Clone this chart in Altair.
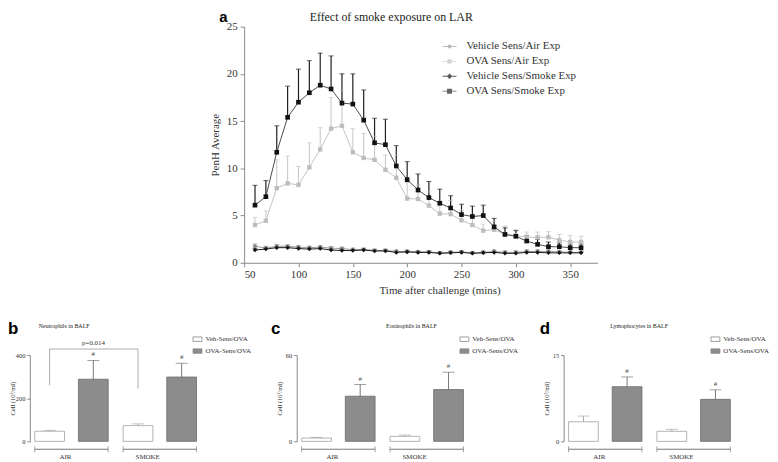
import altair as alt
import pandas as pd

SERIF = "Liberation Serif"
SANS = "Liberation Sans"

# ---------------- panel a data ----------------
times = [60, 70, 80, 90, 100, 110, 120, 130, 140, 150, 160, 170, 180, 190, 200, 210,
         220, 230, 240, 250, 260, 270, 280, 290, 300, 310, 320, 330, 340, 350, 360]
series = ["Vehicle Sens/Air Exp", "OVA Sens/Air Exp", "Vehicle Sens/Smoke Exp", "OVA Sens/Smoke Exp"]

veh_air_mean = [1.75, 1.55, 1.75, 1.75, 1.65, 1.6, 1.65, 1.55, 1.5, 1.4, 1.4, 1.3, 1.3, 1.2, 1.2, 1.15,
                1.15, 1.05, 1.1, 1.15, 1.05, 1.1, 1.2, 1.1, 1.1, 1.2, 1.2, 1.2, 1.15, 1.1, 1.1]
veh_air_upper = [2.0, 1.75, 1.95, 1.9, 1.8, 1.75, 1.8, 1.7, 1.65, 1.55, 1.55, 1.45, 1.45, 1.35, 1.35, 1.3,
                 1.3, 1.2, 1.25, 1.3, 1.2, 1.25, 1.35, 1.25, 1.25, 1.35, 1.35, 1.35, 1.3, 1.25, 1.25]
ova_air_mean = [4.0, 4.45, 7.9, 8.4, 8.25, 10.1, 12.0, 14.2, 14.5, 11.7, 11.1, 10.9, 9.85, 9.0, 6.8, 6.75,
                6.05, 5.2, 5.15, 4.5, 4.0, 3.4, 3.5, 3.05, 2.9, 2.7, 2.7, 2.7, 2.4, 2.2, 2.2]
ova_air_upper = [4.8, 5.5, 10.9, 11.3, 10.2, 12.7, 14.3, 17.5, 18.2, 14.2, 13.7, 13.4, 11.4, 11.4, 8.5, 8.2,
                 7.5, 6.5, 6.6, 5.6, 5.1, 4.1, 4.4, 3.9, 3.5, 3.25, 3.25, 3.3, 3.0, 2.9, 2.8]
veh_smoke_mean = [1.35, 1.45, 1.6, 1.6, 1.5, 1.45, 1.5, 1.35, 1.3, 1.3, 1.35, 1.25, 1.25, 1.1, 1.15, 1.1,
                  1.1, 1.0, 1.05, 1.1, 1.0, 1.05, 1.1, 1.0, 1.0, 1.1, 1.1, 1.05, 1.05, 1.05, 1.05]
veh_smoke_upper = [1.5, 1.55, 1.7, 1.7, 1.6, 1.55, 1.6, 1.45, 1.4, 1.4, 1.45, 1.35, 1.35, 1.2, 1.25, 1.2,
                   1.2, 1.1, 1.15, 1.2, 1.1, 1.15, 1.2, 1.1, 1.1, 1.2, 1.2, 1.15, 1.15, 1.15, 1.15]
ova_smoke_mean = [6.1, 7.0, 11.7, 15.4, 17.0, 18.0, 18.8, 18.4, 16.9, 16.8, 15.1, 12.7, 12.5, 10.25, 8.8, 7.7,
                  6.9, 6.3, 5.8, 5.1, 4.9, 5.0, 3.8, 3.0, 2.8, 2.3, 1.95, 1.7, 1.7, 1.6, 1.6]
ova_smoke_upper = [8.2, 8.7, 14.5, 18.7, 20.5, 21.4, 22.2, 21.9, 20.0, 20.0, 18.3, 15.3, 15.2, 12.4, 10.7, 9.4,
                   8.6, 7.8, 7.1, 6.2, 6.0, 6.1, 4.7, 3.7, 3.4, 2.9, 2.5, 2.2, 2.1, 2.0, 2.0]

x_ticks_a = [50, 100, 150, 200, 250, 300, 350]
y_ticks_a = [0, 5, 10, 15, 20, 25]

# ---------------- panels b-d data ----------------
groups = ["AIR", "SMOKE"]
bar_series = ["Veh-Sens/OVA", "OVA-Sens/OVA"]
sig_marks = ["", "#", "", "#"]          # order: AIR veh, AIR ova, SMOKE veh, SMOKE ova
neut_mean = [47, 288, 73, 298]
neut_upper = [51, 375, 81, 362]
eos_mean = [2.3, 31.4, 3.5, 36.0]
eos_upper = [2.8, 39.5, 4.4, 48.1]
lym_mean = [3.4, 9.5, 1.75, 7.3]
lym_upper = [4.4, 11.2, 2.1, 8.95]
neut_ticks = [0, 100, 200, 300, 400]
eos_ticks = [0, 20, 40, 60]
lym_ticks = [0, 5, 10, 15]
p_label = "p=0.014"
p_left, p_right, p_top, p_text = 260, 245, 428, 454

NONPOS = dict(color="independent", shape="independent", size="independent",
              strokeWidth="independent", stroke="independent", fill="independent")

# ---------------- panel a ----------------
WA, HA = 356, 238
df_a = pd.DataFrame({
    "time": times * 4,
    "series": [s for s in series for _ in times],
    "mean": veh_air_mean + ova_air_mean + veh_smoke_mean + ova_smoke_mean,
    "upper": veh_air_upper + ova_air_upper + veh_smoke_upper + ova_smoke_upper,
})

xa = alt.X("time:Q", scale=alt.Scale(domain=[50, 375], nice=False, zero=False),
           axis=alt.Axis(values=x_ticks_a, title="Time after challenge (mins)", grid=False,
                         tickSize=4, labelFont=SERIF, labelFontSize=11, titleFont=SERIF,
                         titleFontSize=11, titleFontWeight="normal", domainColor="#888",
                         tickColor="#888", labelColor="#333", titleColor="#333",
                         labelPadding=2, titlePadding=5, titleX=197))
ya = alt.Y("mean:Q", scale=alt.Scale(domain=[0, 25], nice=False),
           axis=alt.Axis(values=y_ticks_a, title="PenH Average", grid=False, tickSize=4,
                         labelFont=SERIF, labelFontSize=11, titleFont=SERIF, titleFontSize=11,
                         titleFontWeight="normal", domainColor="#888", tickColor="#888",
                         labelColor="#333", titleColor="#333", labelPadding=3, titlePadding=6))

def sc(rng):
    return alt.Scale(domain=series, range=rng)

err_cols = ["#a0a0a0", "#c8c8c8", "#333333", "#1e1e1e"]
line_cols = ["#9a9a9a", "#c4c4c4", "#1a1a1a", "#4d4d4d"]
pt_cols = ["#8c8c8c", "#bdbdbd", "#111111", "#111111"]

base_a = alt.Chart(df_a)
err_a = base_a.mark_rule().encode(
    x=xa, y=ya, y2="upper:Q",
    color=alt.Color("series:N", scale=sc(err_cols), legend=None),
    strokeWidth=alt.StrokeWidth("series:N", scale=sc([1, 1.2, 1, 1.6]), legend=None),
)
cap_a = base_a.mark_tick(orient="horizontal", size=5).encode(
    x=xa, y=alt.Y("upper:Q"),
    color=alt.Color("series:N", scale=sc(err_cols), legend=None),
    strokeWidth=alt.StrokeWidth("series:N", scale=sc([1, 1.2, 1, 1.6]), legend=None),
)
line_a = base_a.mark_line(strokeWidth=1).encode(
    x=xa, y=ya, detail="series:N",
    color=alt.Color("series:N", scale=sc(line_cols), legend=None),
)
pts_a = base_a.mark_point(filled=True, opacity=1).encode(
    x=xa, y=ya,
    color=alt.Color("series:N", scale=sc(pt_cols), legend=None),
    shape=alt.Shape("series:N", scale=sc(["circle", "square", "diamond", "square"]), legend=None),
    size=alt.Size("series:N", scale=sc([18, 22, 24, 44]), legend=None),
)

LINE = "M-1,-0.07H1V0.07H-1Z "
leg_paths = [
    LINE + "M0.28,0A0.28,0.28,0,1,1,-0.28,0A0.28,0.28,0,1,1,0.28,0Z",
    LINE + "M-0.3,-0.3H0.3V0.3H-0.3Z",
    LINE + "M0,-0.4L0.4,0L0,0.4L-0.4,0Z",
    LINE + "M-0.36,-0.36H0.36V0.36H-0.36Z",
]
leg_df = pd.DataFrame({"series": series, "time": [200] * 4, "mean": [10.0] * 4})
legend_a = alt.Chart(leg_df).transform_filter("datum.time < 0").mark_point(filled=True).encode(
    x=alt.X("time:Q"), y=alt.Y("mean:Q"),
    color=alt.Color("series:N", scale=sc(["#9a9a9a", "#bdbdbd", "#111111", "#222222"]),
                    legend=alt.Legend(title=None, orient="none", legendX=200, legendY=13,
                                      symbolSize=196, symbolStrokeWidth=0, labelFont=SERIF,
                                      labelFontSize=11, labelColor="#333", labelOffset=10,
                                      rowPadding=3, padding=0)),
    shape=alt.Shape("series:N", scale=sc(leg_paths)),
)

title_a = alt.Chart(pd.DataFrame({"t": ["Effect of smoke exposure on LAR"]})).mark_text(
    align="left", baseline="alphabetic", font=SERIF, fontSize=12, color="#222").encode(
    x=alt.value(66), y=alt.value(-6), text="t:N")
letter_a = alt.Chart(pd.DataFrame({"t": ["a"]})).mark_text(
    align="left", baseline="alphabetic", font=SANS, fontSize=15, fontWeight="bold", color="#000").encode(
    x=alt.value(-25), y=alt.value(-5), text="t:N")

panel_a = alt.layer(err_a, cap_a, line_a, pts_a, legend_a, title_a, letter_a).resolve_scale(
    color="independent", shape="independent", size="independent", strokeWidth="independent"
).properties(width=WA, height=HA)

spacer = alt.Chart(pd.DataFrame({"v": [0]})).mark_point(opacity=0).encode(
    x=alt.value(0), y=alt.value(0)).properties(width=216, height=10)

top_row = alt.hconcat(spacer, panel_a, spacing=0, bounds="flush").resolve_scale(
    **NONPOS).resolve_legend(color="independent", shape="independent")

# ---------------- bar panels ----------------
WB, HB = 173, 87
BOFF = 15.0 / 74.0   # centre of first bar within a group band


def bar_panel(means, uppers, ymax, yticks, title_txt, letter, title_dx, letter_dx,
              legend_x, ytitle_pad, with_p=False):
    df = pd.DataFrame({
        "group": [g for g in groups for _ in bar_series],
        "series": bar_series * 2,
        "mean": means,
        "upper": uppers,
        "sig": sig_marks,
    })
    xsc = alt.Scale(domain=groups, paddingInner=0.169, paddingOuter=0.056)
    xoff = alt.XOffset("series:N", scale=alt.Scale(domain=bar_series, paddingInner=0.318, paddingOuter=0))
    ysc = alt.Scale(domain=[0, ymax], nice=False)
    ytitle = "Cell (10\u00b3/ml)"
    edge = alt.Scale(domain=bar_series, range=["#a0a0a0", "#6a6a6a"])
    base = alt.Chart(df)

    bars = base.mark_bar(strokeWidth=0.8).encode(
        x=alt.X("group:N", scale=xsc, title=None,
                axis=alt.Axis(domain=False, ticks=False, tickSize=0, labelAngle=0, labelFont=SERIF,
                              labelFontSize=7, labelColor="#333", labelPadding=15)),
        xOffset=xoff,
        y=alt.Y("mean:Q", scale=ysc, title=ytitle,
                axis=alt.Axis(values=yticks, grid=False, tickSize=3, domainColor="#888",
                              tickColor="#888", labelFont=SERIF, labelFontSize=6.5,
                              labelColor="#333", labelPadding=2, titleFont=SERIF,
                              titleFontSize=6.5, titleFontWeight="normal", titleColor="#333",
                              titlePadding=ytitle_pad)),
        color=alt.Color("series:N", scale=alt.Scale(domain=bar_series, range=["#ffffff", "#8c8c8c"]),
                        legend=alt.Legend(title=None, orient="none", legendX=legend_x, legendY=-21,
                                          symbolType="M-1,-0.5H1V0.5H-1Z", symbolSize=81,
                                          symbolStrokeColor="#888", symbolStrokeWidth=0.8,
                                          labelFont=SERIF, labelFontSize=7, labelColor="#333",
                                          labelOffset=3, rowPadding=3, padding=0)),
        stroke=alt.Stroke("series:N", scale=edge, legend=None),
    )
    err = base.mark_rule(strokeWidth=0.9).encode(
        x=alt.X("group:N", scale=xsc, title=None), xOffset=xoff,
        y=alt.Y("mean:Q", scale=ysc, title=ytitle), y2="upper:Q",
        stroke=alt.Stroke("series:N", scale=edge, legend=None),
    )
    cap = base.mark_tick(orient="horizontal", size=12, thickness=0.9).encode(
        x=alt.X("group:N", scale=xsc, title=None), xOffset=xoff,
        y=alt.Y("upper:Q", scale=ysc, title=ytitle),
        fill=alt.Fill("series:N", scale=edge, legend=None),
    )
    sig = base.mark_text(baseline="bottom", dy=-3, font=SERIF, fontSize=7, color="#444").encode(
        x=alt.X("group:N", scale=xsc, title=None), xOffset=xoff,
        y=alt.Y("upper:Q", scale=ysc, title=ytitle), text="sig:N",
    )
    gdf = alt.Chart(pd.DataFrame({"group": groups}))
    br_line = gdf.mark_bar(stroke="#8a8a8a", strokeWidth=0.8, fill="#ffffff").encode(
        x=alt.X("group:N", scale=xsc, title=None), y=alt.value(HB + 8), y2=alt.value(HB + 8))
    br_l = gdf.mark_rule(color="#8a8a8a", strokeWidth=0.8).encode(
        x=alt.X("group:N", scale=xsc, title=None, bandPosition=0),
        y=alt.value(HB + 5), y2=alt.value(HB + 11))
    br_r = gdf.mark_rule(color="#8a8a8a", strokeWidth=0.8).encode(
        x=alt.X("group:N", scale=xsc, title=None, bandPosition=1),
        y=alt.value(HB + 5), y2=alt.value(HB + 11))
    ttl = alt.Chart(pd.DataFrame({"t": [title_txt]})).mark_text(
        align="left", baseline="alphabetic", font=SERIF, fontSize=6, color="#222").encode(
        x=alt.value(title_dx), y=alt.value(-27), text="t:N")
    let = alt.Chart(pd.DataFrame({"t": [letter]})).mark_text(
        align="left", baseline="alphabetic", font=SANS, fontSize=17, fontWeight="bold", color="#000").encode(
        x=alt.value(letter_dx), y=alt.value(-21), text="t:N")
    layers = [br_line, br_l, br_r, bars, err, cap, sig]
    if with_p:
        pdf = alt.Chart(pd.DataFrame({"g1": ["AIR"], "g2": ["SMOKE"], "yl": [p_left], "yr": [p_right],
                                      "yt": [p_top], "ytx": [p_text], "lab": [p_label]}))
        pc = "#999999"
        leg1 = pdf.mark_rule(color=pc, strokeWidth=0.8).encode(
            x=alt.X("g1:N", scale=xsc, title=None, bandPosition=BOFF),
            y=alt.Y("yl:Q", scale=ysc, title=ytitle), y2="yt:Q")
        leg2 = pdf.mark_rule(color=pc, strokeWidth=0.8).encode(
            x=alt.X("g2:N", scale=xsc, title=None, bandPosition=BOFF),
            y=alt.Y("yr:Q", scale=ysc, title=ytitle), y2="yt:Q")
        top = pdf.mark_rule(color=pc, strokeWidth=0.8).encode(
            x=alt.X("g1:N", scale=xsc, title=None, bandPosition=BOFF),
            x2=alt.X2("g2:N", bandPosition=BOFF),
            y=alt.Y("yt:Q", scale=ysc, title=ytitle))
        ptxt = pdf.mark_text(baseline="middle", font=SERIF, fontSize=7, color="#333").encode(
            x=alt.X("g1:N", scale=xsc, title=None, bandPosition=0.80),
            y=alt.Y("ytx:Q", scale=ysc, title=ytitle), text="lab:N")
        layers += [leg1, leg2, top, ptxt]
    layers += [ttl, let]
    return alt.layer(*layers).resolve_scale(stroke="independent", fill="independent").properties(
        width=WB, height=HB)


panel_b = bar_panel(neut_mean, neut_upper, 400, neut_ticks, "Neutrophils in BALF", "b",
                    9, -22, 164, 0, with_p=True)
panel_c = bar_panel(eos_mean, eos_upper, 60, eos_ticks, "Eosinophils in BALF", "c",
                    90, -26, 164, 3)
panel_d = bar_panel(lym_mean, lym_upper, 15, lym_ticks, "Lymophocytes in BALF", "d",
                    47, -24, 148, 3)

bottom_row = alt.hconcat(panel_b, panel_c, panel_d, spacing=96, bounds="flush").resolve_scale(
    **NONPOS).resolve_legend(color="independent")

chart = alt.vconcat(top_row, bottom_row, spacing=25).resolve_scale(**NONPOS).resolve_legend(
    color="independent", shape="independent").properties(
    padding=0, background="#ffffff"
).configure_view(stroke=None)

chart.save("out.html", embed_options={"renderer": "svg", "actions": False})
